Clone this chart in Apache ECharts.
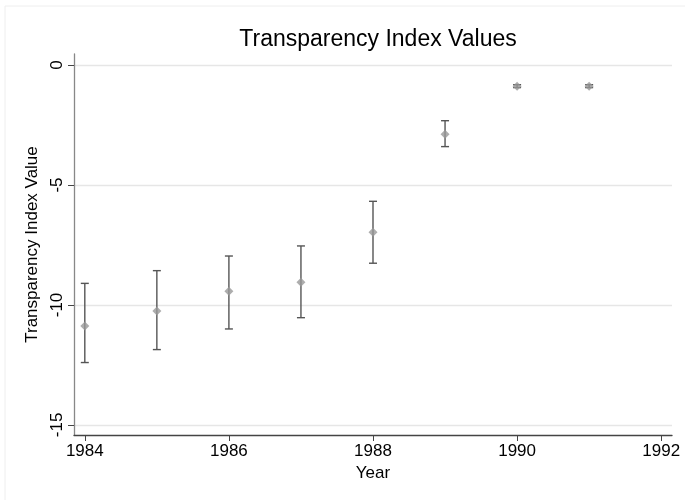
<!DOCTYPE html>
<html>
<head>
<meta charset="utf-8">
<script src="https://cdn.jsdelivr.net/npm/echarts@6/dist/echarts.min.js"></script>
<style>
  html, body { margin: 0; padding: 0; background: #fff; }
  #chart { width: 685px; height: 500px; }
</style>
</head>
<body>
<div id="chart"></div>
<script>
// data
const years = [1984, 1985, 1986, 1987, 1988, 1989, 1990, 1991]
const values = [-10.88, -10.25, -9.43, -9.05, -6.97, -2.88, -0.88, -0.88]
const upper = [-9.1, -8.57, -7.96, -7.54, -5.68, -2.32, -0.82, -0.82]
const lower = [-12.4, -11.86, -11.0, -10.53, -8.26, -3.4, -0.94, -0.94]
const xTicks = [1984, 1986, 1988, 1990, 1992]
const yTicks = [-15, -10, -5, 0]

const font = '"Liberation Sans", Arial, sans-serif'
const chart = echarts.init(document.getElementById('chart'))

const option = {
  backgroundColor: '#fff',
  animation: false,
  title: {
    text: 'Transparency Index Values',
    left: 373,
    top: 23,
    textAlign: 'center',
    textStyle: { fontFamily: font, fontSize: 23, fontWeight: 'normal', color: '#000' }
  },
  grid: { left: 74, right: 13, top: 54, bottom: 65 },
  xAxis: {
    type: 'value',
    min: 1983.85,
    max: 1992.15,
    name: 'Year',
    nameLocation: 'middle',
    nameGap: 30,
    nameTextStyle: { fontFamily: font, fontSize: 17, color: '#000' },
    axisLine: { onZero: false, lineStyle: { color: '#444', width: 1.3 } },
    axisTick: { customValues: xTicks, length: 6, lineStyle: { color: '#444' } },
    axisLabel: {
      customValues: xTicks,
      formatter: v => String(v),
      fontFamily: font, fontSize: 17, color: '#000', margin: 8
    },
    splitLine: { show: false }
  },
  yAxis: {
    type: 'value',
    min: -15.42,
    max: 0.46,
    name: 'Transparency Index Value',
    nameLocation: 'middle',
    nameGap: 31,
    nameTextStyle: { fontFamily: font, fontSize: 17, color: '#000' },
    axisLine: { show: true, lineStyle: { color: '#888', width: 1.3 } },
    axisTick: { show: true, customValues: yTicks, length: 6, lineStyle: { color: '#444' } },
    axisLabel: {
      customValues: yTicks,
      formatter: v => String(v),
      rotate: 90, fontFamily: font, fontSize: 17, color: '#000', margin: 8
    },
    splitLine: { show: true, lineStyle: { color: '#e6e6e6', width: 1.3 } }
  },
  series: [
    {
      type: 'custom',
      data: years.map((y, i) => [y, lower[i], upper[i]]),
      renderItem: function (params, api) {
        const lo = api.coord([api.value(0), api.value(1)])
        const hi = api.coord([api.value(0), api.value(2)])
        const w = 4
        const style = { stroke: '#555', lineWidth: 1.4 }
        return {
          type: 'group',
          children: [
            { type: 'line', shape: { x1: lo[0], y1: lo[1], x2: hi[0], y2: hi[1] }, style: style },
            { type: 'line', shape: { x1: lo[0] - w, y1: lo[1], x2: lo[0] + w, y2: lo[1] }, style: style },
            { type: 'line', shape: { x1: hi[0] - w, y1: hi[1], x2: hi[0] + w, y2: hi[1] }, style: style }
          ]
        }
      },
      z: 2
    },
    {
      type: 'scatter',
      data: years.map((y, i) => [y, values[i]]),
      symbol: 'diamond',
      symbolSize: 9,
      itemStyle: { color: '#999' },
      z: 3
    }
  ],
  graphic: [
    { type: 'line', shape: { x1: 5, y1: 6, x2: 685, y2: 6 }, style: { stroke: '#eee', lineWidth: 1 } },
    { type: 'line', shape: { x1: 5, y1: 6, x2: 5, y2: 500 }, style: { stroke: '#eee', lineWidth: 1 } }
  ]
}

chart.setOption(option)
</script>
</body>
</html>
